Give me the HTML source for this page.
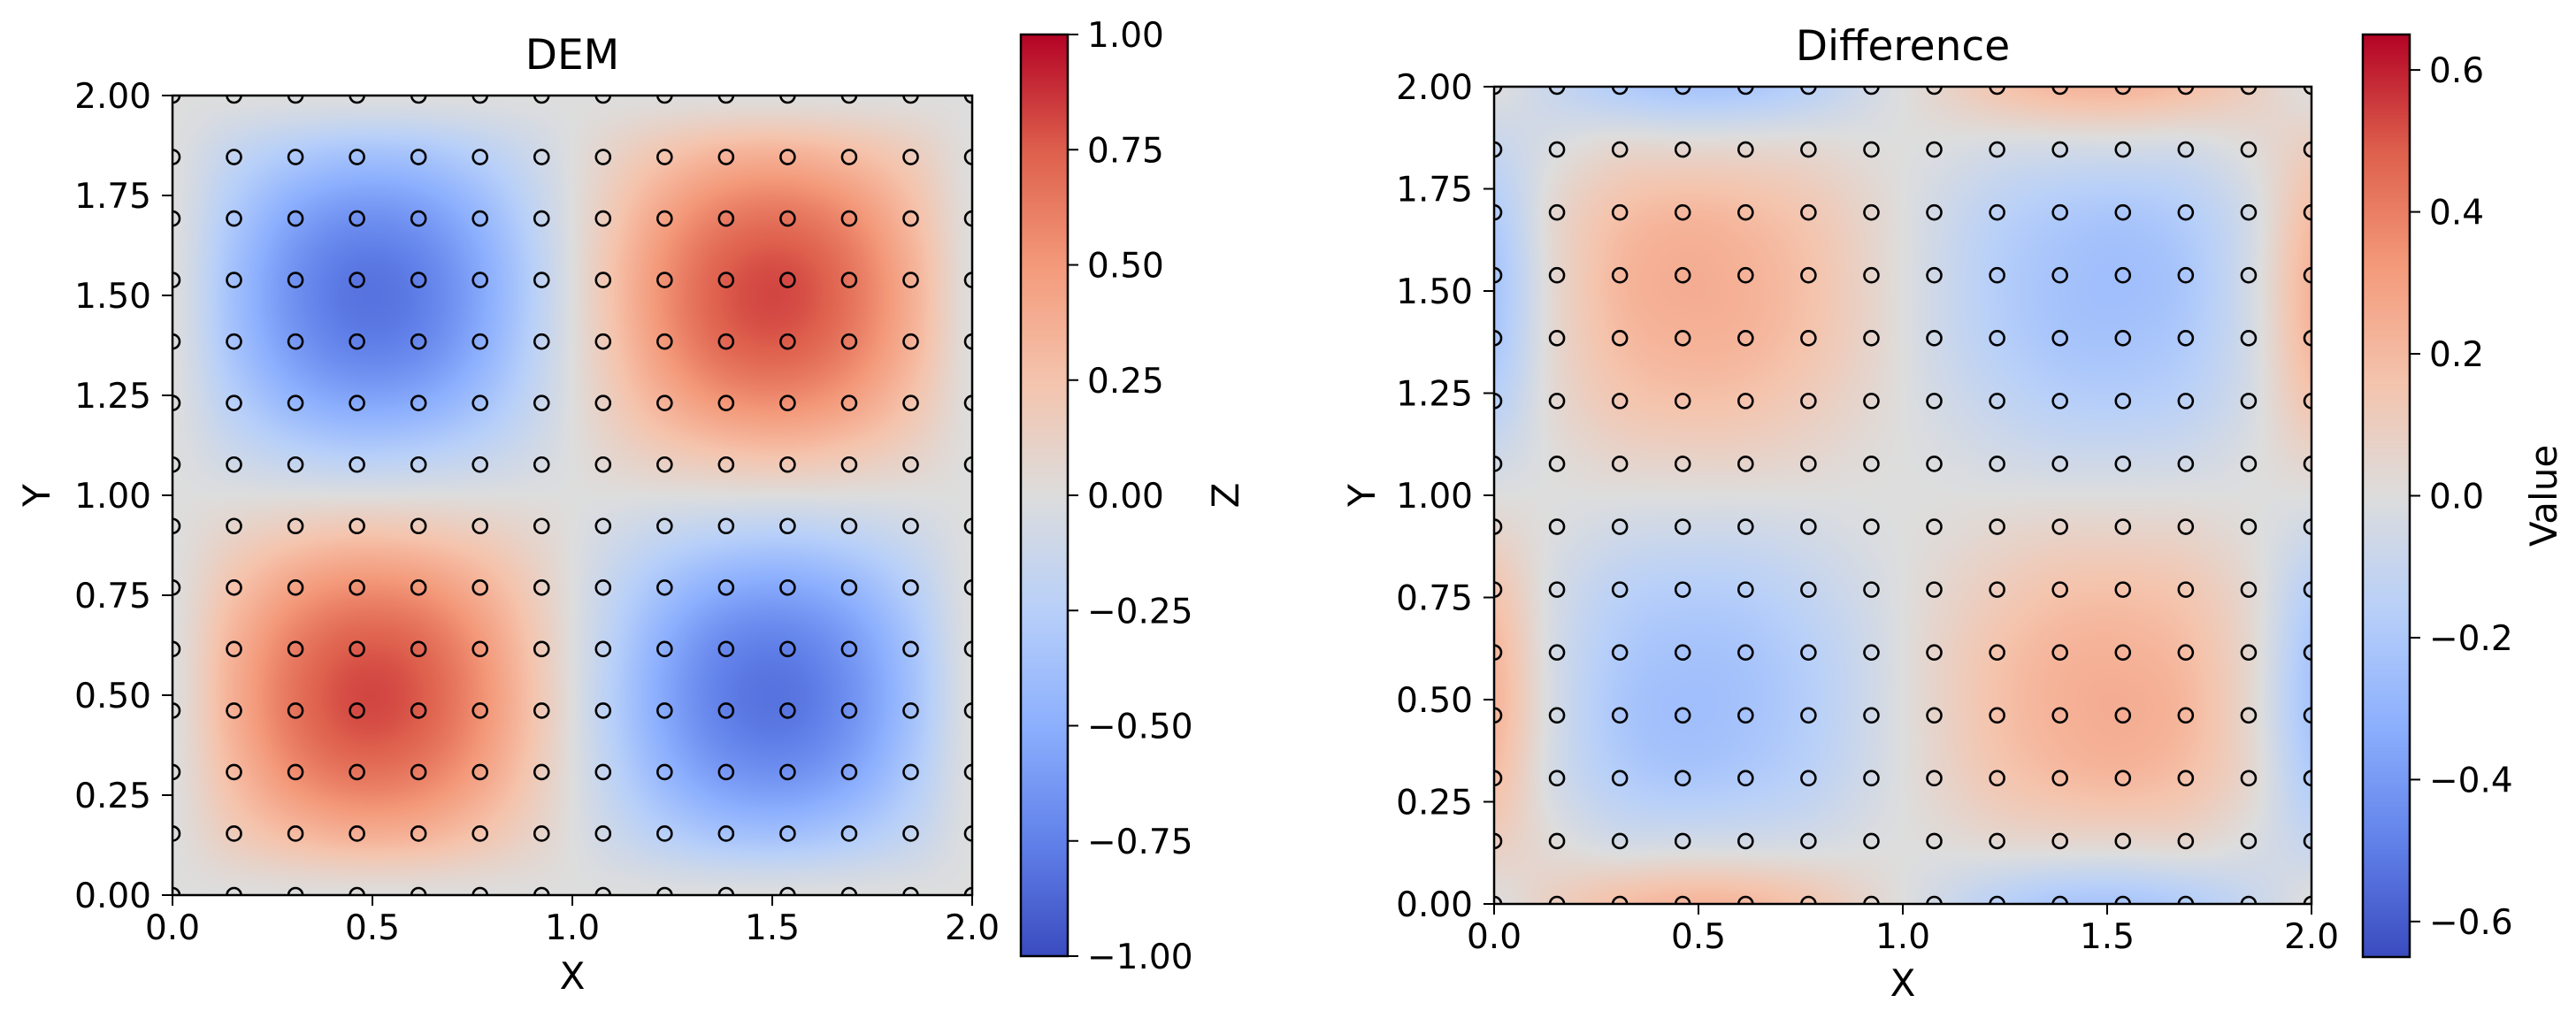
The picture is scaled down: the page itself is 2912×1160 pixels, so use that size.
<!DOCTYPE html>
<html><head><meta charset="utf-8"><style>
html,body{margin:0;padding:0;background:#fff;}
#root{position:relative;width:2912px;height:1160px;overflow:hidden;background:#fff;}
canvas{position:absolute;}
svg{position:absolute;left:0;top:0;}
text{font-family:"DejaVu Sans","Liberation Sans",sans-serif;fill:#000;}
</style></head><body>
<div id="root">
<canvas id="hm1"></canvas>
<canvas id="hm2"></canvas>
<canvas id="cb1"></canvas>
<canvas id="cb2"></canvas>
<svg id="ov" width="2912" height="1160"></svg>
</div>
<script>
// Grid coordinates of sample points (14 x 14)
const gridX = [0,0.1538,0.3077,0.4615,0.6154,0.7692,0.9231,1.0769,1.2308,1.3846,1.5385,1.6923,1.8462,2.0];
const gridY = [0,0.1538,0.3077,0.4615,0.6154,0.7692,0.9231,1.0769,1.2308,1.3846,1.5385,1.6923,1.8462,2.0];
// DEM values, rows from y=0 (bottom) to y=2 (top)
const demValues = [
[0,0,0,0,0,0,0,0,0,0,0,0,0,0],
[0,.18,.31,.38,.36,.25,.09,-.09,-.25,-.36,-.38,-.31,-.18,0],
[0,.31,.56,.67,.63,.45,.16,-.16,-.45,-.63,-.67,-.56,-.31,0],
[0,.38,.67,.81,.76,.54,.20,-.20,-.54,-.76,-.81,-.67,-.38,0],
[0,.36,.63,.76,.72,.51,.18,-.18,-.51,-.72,-.76,-.63,-.36,0],
[0,.25,.45,.54,.51,.36,.13,-.13,-.36,-.51,-.54,-.45,-.25,0],
[0,.09,.16,.20,.18,.13,.05,-.05,-.13,-.18,-.20,-.16,-.09,0],
[0,-.09,-.16,-.20,-.18,-.13,-.05,.05,.13,.18,.20,.16,.09,0],
[0,-.25,-.45,-.54,-.51,-.36,-.13,.13,.36,.51,.54,.45,.25,0],
[0,-.36,-.63,-.76,-.72,-.51,-.18,.18,.51,.72,.76,.63,.36,0],
[0,-.38,-.67,-.81,-.76,-.54,-.20,.20,.54,.76,.81,.67,.38,0],
[0,-.31,-.56,-.67,-.63,-.45,-.16,.16,.45,.63,.67,.56,.31,0],
[0,-.18,-.31,-.38,-.36,-.25,-.09,.09,.25,.36,.38,.31,.18,0],
[0,0,0,0,0,0,0,0,0,0,0,0,0,0]];
// Difference values, rows from y=0 to y=2
const diffValues = [
[0,.10,.18,.22,.21,.15,.05,-.05,-.15,-.21,-.22,-.18,-.10,0],
[.10,.01,-.05,-.05,-.05,-.04,-.01,.01,.04,.05,.05,.05,-.01,-.10],
[.18,-.05,-.17,-.21,-.19,-.14,-.05,.05,.14,.19,.21,.17,.05,-.18],
[.22,-.05,-.21,-.25,-.23,-.17,-.06,.06,.17,.23,.25,.21,.05,-.22],
[.21,-.05,-.19,-.23,-.22,-.16,-.06,.06,.16,.22,.23,.19,.05,-.21],
[.15,-.04,-.14,-.17,-.16,-.11,-.04,.04,.11,.16,.17,.14,.04,-.15],
[.05,-.01,-.05,-.06,-.06,-.04,-.01,.01,.04,.06,.06,.05,.01,-.05],
[-.05,.01,.05,.06,.06,.04,.01,-.01,-.04,-.06,-.06,-.05,-.01,.05],
[-.15,.04,.14,.17,.16,.11,.04,-.04,-.11,-.16,-.17,-.14,-.04,.15],
[-.21,.05,.19,.23,.22,.16,.06,-.06,-.16,-.22,-.23,-.19,-.05,.21],
[-.22,.05,.21,.25,.23,.17,.06,-.06,-.17,-.23,-.25,-.21,-.05,.22],
[-.18,.05,.17,.21,.19,.14,.05,-.05,-.14,-.19,-.21,-.17,-.05,.18],
[-.10,-.01,.05,.05,.05,.04,.01,-.01,-.04,-.05,-.05,-.05,.01,.10],
[0,-.10,-.18,-.22,-.21,-.15,-.05,.05,.15,.21,.22,.18,.10,0]];
const xTicks = [0,0.5,1.0,1.5,2.0];
const xTickLabels = ["0.0","0.5","1.0","1.5","2.0"];
const yTicks = [0,0.25,0.5,0.75,1.0,1.25,1.5,1.75,2.0];
const yTickLabels = ["0.00","0.25","0.50","0.75","1.00","1.25","1.50","1.75","2.00"];
const demCbTicks = [-1,-0.75,-0.5,-0.25,0,0.25,0.5,0.75,1];
const demCbLabels = ["\u22121.00","\u22120.75","\u22120.50","\u22120.25","0.00","0.25","0.50","0.75","1.00"];
const diffCbTicks = [-0.6,-0.4,-0.2,0,0.2,0.4,0.6];
const diffCbLabels = ["\u22120.6","\u22120.4","\u22120.2","0.0","0.2","0.4","0.6"];

const cmapStops=[[59,76,192],[98,130,234],[141,176,254],[184,208,249],[221,221,221],[245,196,173],[244,154,123],[222,96,77],[180,4,38]];
function cmap(t){t=Math.max(0,Math.min(1,t));const p=t*8;const i=Math.min(7,Math.floor(p));const f=p-i;const a=cmapStops[i],b=cmapStops[i+1];return [a[0]+(b[0]-a[0])*f,a[1]+(b[1]-a[1])*f,a[2]+(b[2]-a[2])*f];}
function cr(p0,p1,p2,p3,t){return p1+0.5*t*(p2-p0+t*(2*p0-5*p1+4*p2-p3+t*(3*(p1-p2)+p3-p0)));}
function sample(g,gx,gy){const n=g.length;const i=Math.min(n-2,Math.floor(gx)),j=Math.min(n-2,Math.floor(gy));const fx=gx-i,fy=gy-j;const G=(a,b)=>g[Math.max(0,Math.min(n-1,b))][Math.max(0,Math.min(n-1,a))];const r=[];for(let k=-1;k<=2;k++)r.push(cr(G(i-1,j+k),G(i,j+k),G(i+1,j+k),G(i+2,j+k),fx));return cr(r[0],r[1],r[2],r[3],fy);}

const SVGNS="http://www.w3.org/2000/svg";
const ov=document.getElementById('ov');
function mk(tag,attrs,parent){const e=document.createElementNS(SVGNS,tag);for(const k in attrs)e.setAttribute(k,attrs[k]);(parent||ov).appendChild(e);return e;}

function panel(o){
  const {id,L,T,S,grid,vmin,vmax,cbId,cbL,cbT,cbW,cbH,cbTicks,cbLabels,title,titleY,cbLabel,cbLabelX,xlabY,ylabX,prefix}=o;
  const xs=v=>L+v/2*S, ys=v=>T+S-v/2*S;
  const cv=document.getElementById(id);cv.width=S;cv.height=S;cv.style.left=L+'px';cv.style.top=T+'px';
  const ctx=cv.getContext('2d');const im=ctx.createImageData(S,S);const n=grid.length;
  for(let py=0;py<S;py++){const gy=(S-1-py)/(S-1)*(n-1);for(let px=0;px<S;px++){const gx=px/(S-1)*(n-1);const v=sample(grid,gx,gy);const c=cmap((v-vmin)/(vmax-vmin));const k=(py*S+px)*4;im.data[k]=c[0];im.data[k+1]=c[1];im.data[k+2]=c[2];im.data[k+3]=255;}}
  ctx.putImageData(im,0,0);
  const cb=document.getElementById(cbId);cb.width=cbW;cb.height=cbH;cb.style.left=cbL+'px';cb.style.top=cbT+'px';
  const c2=cb.getContext('2d');for(let y=0;y<cbH;y++){const c=cmap(1-y/(cbH-1));c2.fillStyle=`rgb(${c[0]|0},${c[1]|0},${c[2]|0})`;c2.fillRect(0,y,cbW,1);}
  const g=mk('g',{});
  
  const cid=prefix+'-clip';const cp=mk('clipPath',{id:cid},g);mk('rect',{x:L,y:T,width:S,height:S},cp);
  const mg=mk('g',{'clip-path':`url(#${cid})`},g);
  
  for(const yv of gridY)for(const xv of gridX){const c=mk('circle',{cx:xs(xv),cy:ys(yv),r:8,fill:'none',stroke:'#000','stroke-width':2.6},mg);
    
    }
  const fr=mk('rect',{x:L,y:T,width:S,height:S,fill:'none',stroke:'#000','stroke-width':2.5},g);
  
  xTicks.forEach((v,i)=>{mk('line',{x1:xs(v),x2:xs(v),y1:T+S,y2:T+S+12,stroke:'#000','stroke-width':2},g);
    const t=mk('text',{x:xs(v),y:T+S+50,'text-anchor':'middle','font-size':39},g);t.textContent=xTickLabels[i];
    });
  yTicks.forEach((v,i)=>{mk('line',{x1:L-12,x2:L,y1:ys(v),y2:ys(v),stroke:'#000','stroke-width':2},g);
    const t=mk('text',{x:L-24,y:ys(v)+14,'text-anchor':'end','font-size':39},g);t.textContent=yTickLabels[i];
    });
  const xl=mk('text',{x:L+S/2,y:xlabY,'text-anchor':'middle','font-size':42},g);xl.textContent='X';
  
  const yl=mk('text',{x:ylabX,y:T+S/2,'text-anchor':'middle','font-size':42,transform:`rotate(-90 ${ylabX} ${T+S/2})`},g);yl.textContent='Y';
  
  const tt=mk('text',{x:L+S/2,y:titleY,'text-anchor':'middle','font-size':47},g);tt.textContent=title;
  
  const cbs=v=>cbT+cbH-(v-vmin)/(vmax-vmin)*cbH;
  mk('rect',{x:cbL,y:cbT,width:cbW,height:cbH,fill:'none',stroke:'#000','stroke-width':2.5},g);
  cbTicks.forEach((v,i)=>{mk('line',{x1:cbL+cbW,x2:cbL+cbW+12,y1:cbs(v),y2:cbs(v),stroke:'#000','stroke-width':2},g);
    const t=mk('text',{x:cbL+cbW+22,y:cbs(v)+14,'font-size':39},g);t.textContent=cbLabels[i];
    });
  const cy=cbT+cbH/2;
  const cl=mk('text',{x:cbLabelX,y:cy,'text-anchor':'middle','font-size':42,transform:`rotate(-90 ${cbLabelX} ${cy})`},g);cl.textContent=cbLabel;
  
}
panel({id:'hm1',prefix:'dem',L:195,T:108,S:904,grid:demValues,vmin:-1,vmax:1,cbId:'cb1',cbL:1154,cbT:39,cbW:53,cbH:1042,cbTicks:demCbTicks,cbLabels:demCbLabels,title:'DEM',titleY:78,cbLabel:'Z',cbLabelX:1400,xlabY:1118,ylabX:56});
panel({id:'hm2',prefix:'diff',L:1689,T:98,S:924,grid:diffValues,vmin:-0.65,vmax:0.65,cbId:'cb2',cbL:2671,cbT:39,cbW:53,cbH:1043,cbTicks:diffCbTicks,cbLabels:diffCbLabels,title:'Difference',titleY:68,cbLabel:'Value',cbLabelX:2890,xlabY:1126,ylabX:1554});
</script>
</body></html>
